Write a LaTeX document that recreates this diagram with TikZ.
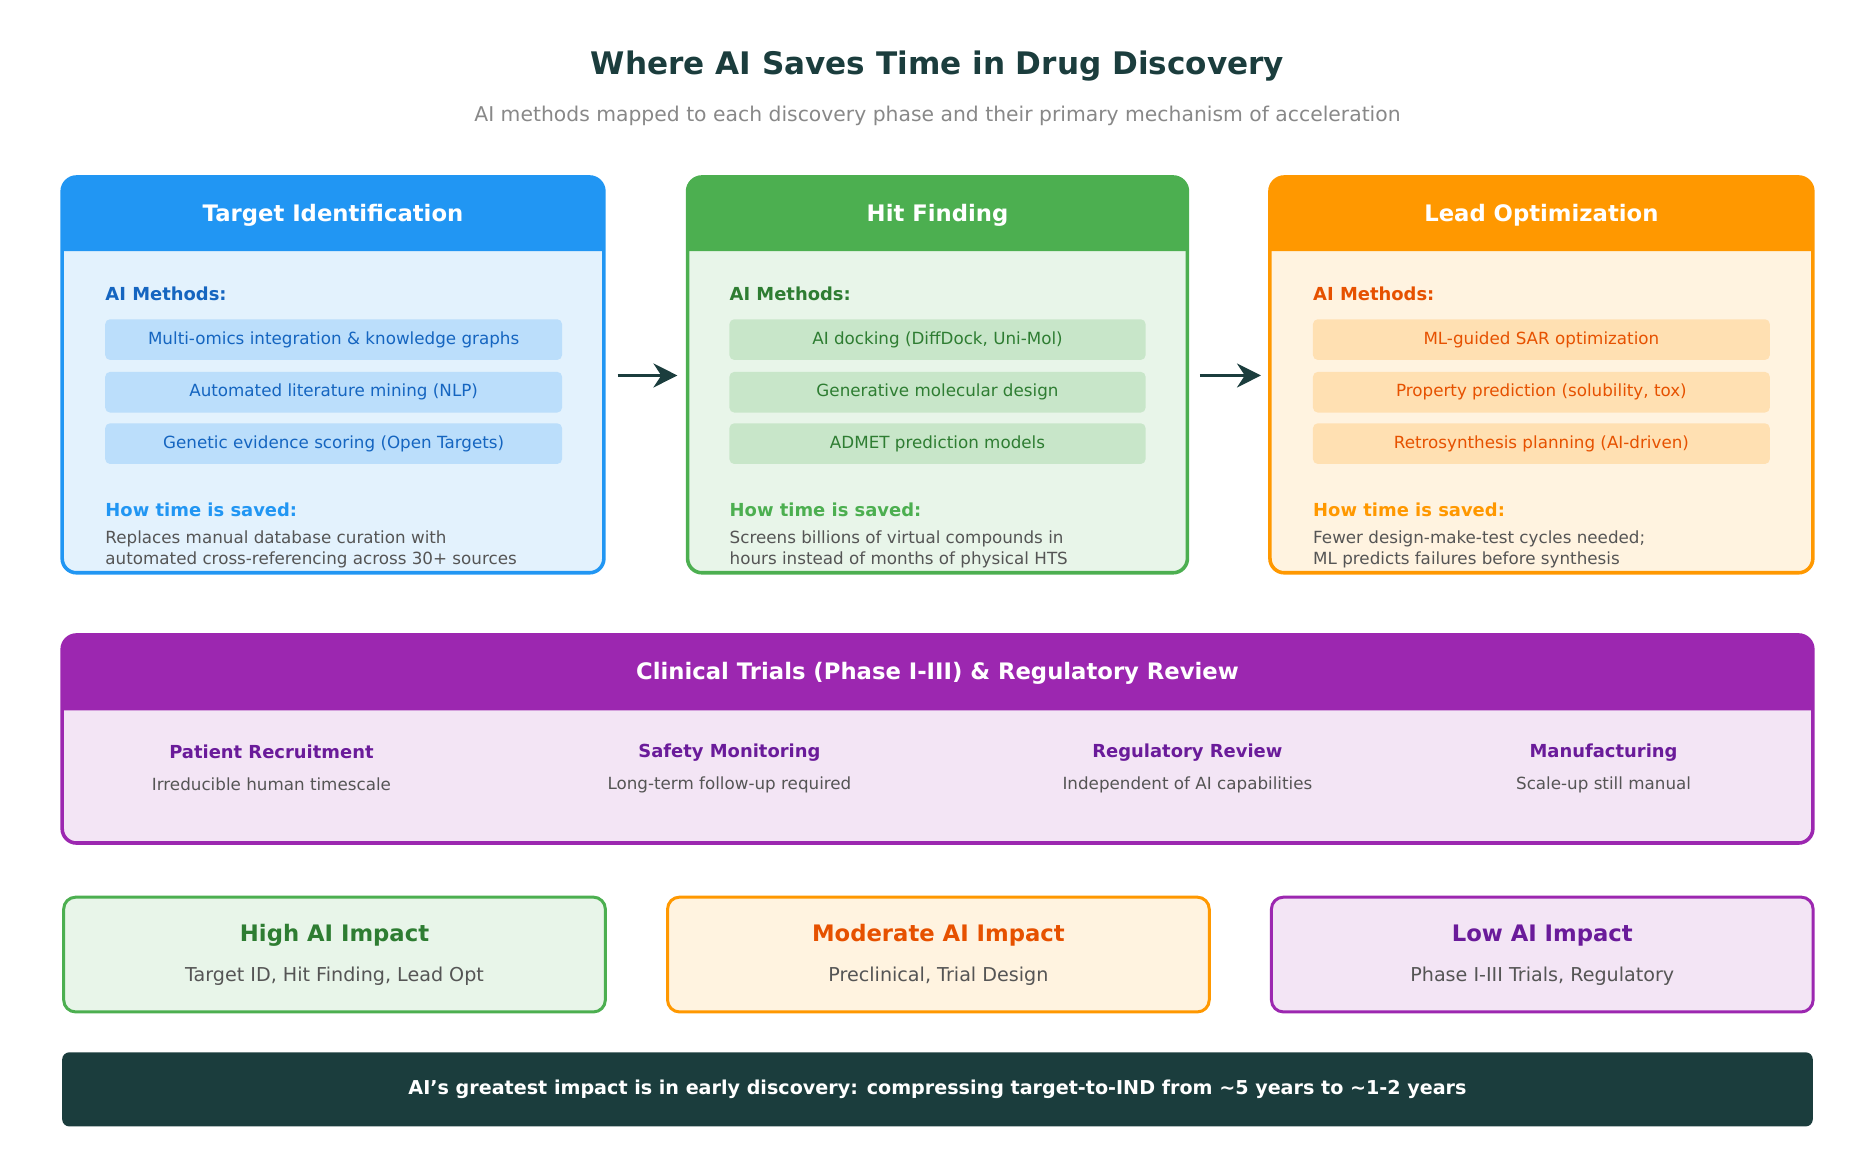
\documentclass[tikz,border=0pt]{standalone}
\usepackage{fontspec}
\setmainfont{DejaVu Sans}
\usetikzlibrary{arrows.meta, positioning}
\definecolor{darkteal}{HTML}{1B3D3D}
\definecolor{subgray}{HTML}{888888}
\definecolor{textgray}{HTML}{555555}
\definecolor{tgtmain}{HTML}{2196F3}
\definecolor{tgtdark}{HTML}{1565C0}
\definecolor{tgtfill}{HTML}{E3F2FD}
\definecolor{tgtpill}{HTML}{BBDEFB}
\definecolor{hitmain}{HTML}{4CAF50}
\definecolor{hitdark}{HTML}{2E7D32}
\definecolor{hitfill}{HTML}{E8F5E9}
\definecolor{hitpill}{HTML}{C8E6C9}
\definecolor{leadmain}{HTML}{FF9800}
\definecolor{leaddark}{HTML}{E65100}
\definecolor{leadfill}{HTML}{FFF3E0}
\definecolor{leadpill}{HTML}{FFE0B2}
\definecolor{clinmain}{HTML}{9C27B0}
\definecolor{clindark}{HTML}{6A1B9A}
\definecolor{clinfill}{HTML}{F3E5F5}
\newcommand{\fs}[1]{\fontsize{#1}{#1}\selectfont}
\tikzset{
  pill/.style={rounded corners=4, minimum height=34, inner sep=0},
  headtext/.style={text=white, font=\fs{19}\bfseries},
  bodytext/.style={text=textgray, font=\fs{14}, align=left, anchor=north west, inner sep=0},
  flowarrow/.style={-{Stealth[length=20, width=20]}, line width=3, darkteal}
}
% phase box: name, x1, x2, main, dark, fill, pill, title
\newcommand{\phasebox}[8]{%
  \fill[#6, rounded corners=12] (#2,148) rectangle (#3,479);
  \fill[#4] (#2,210) [rounded corners=12] -- (#2,148) -- (#3,148) [sharp corners] -- (#3,210) -- cycle;
  \node[draw=#4, line width=3, rounded corners=12, minimum width={#3-#2}, minimum height=331, inner sep=0]
    (#1) at ({(#2+#3)/2},313.5) {};
  \node[headtext] (#1-head) at ({(#2+#3)/2},180) {#8};
}
\begin{document}
\begin{tikzpicture}[x=1pt, y=-1pt]
  \useasboundingbox (0,0) rectangle (1568,976);

  % title
  \node[text=darkteal, font=\fs{26}\bfseries] (title) at (784,55) {Where AI Saves Time in Drug Discovery};
  \node[text=subgray, font=\fs{17}] (subtitle) at (784,97) {AI methods mapped to each discovery phase and their primary mechanism of acceleration};

  % phase boxes
  \phasebox{tgt}{52}{505}{tgtmain}{tgtdark}{tgtfill}{tgtpill}{Target Identification}
  \phasebox{hit}{575}{993}{hitmain}{hitdark}{hitfill}{hitpill}{Hit Finding}
  \phasebox{lead}{1062}{1516}{leadmain}{leaddark}{leadfill}{leadpill}{Lead Optimization}

  % target identification
  \node[text=tgtdark, font=\fs{15}\bfseries, anchor=west, inner sep=0] (tgt-ai) at (88,246) {AI Methods:};
  \node[pill, fill=tgtpill, minimum width=382, text=tgtdark, font=\fs{14}] (tgt-m1) at (279,284) {Multi-omics integration \& knowledge graphs};
  \node[pill, fill=tgtpill, minimum width=382, text=tgtdark, font=\fs{14}] (tgt-m2) at (279,328) {Automated literature mining (NLP)};
  \node[pill, fill=tgtpill, minimum width=382, text=tgtdark, font=\fs{14}] (tgt-m3) at (279,371) {Genetic evidence scoring (Open Targets)};
  \node[text=tgtmain, font=\fs{15}\bfseries, anchor=west, inner sep=0] (tgt-how) at (88,426) {How time is saved:};
  \node[bodytext] (tgt-txt) at (88,444) {Replaces manual database curation with\\[3pt]automated cross-referencing across 30+ sources};

  % hit finding
  \node[text=hitdark, font=\fs{15}\bfseries, anchor=west, inner sep=0] (hit-ai) at (610,246) {AI Methods:};
  \node[pill, fill=hitpill, minimum width=348, text=hitdark, font=\fs{14}] (hit-m1) at (784,284) {AI docking (DiffDock, Uni-Mol)};
  \node[pill, fill=hitpill, minimum width=348, text=hitdark, font=\fs{14}] (hit-m2) at (784,328) {Generative molecular design};
  \node[pill, fill=hitpill, minimum width=348, text=hitdark, font=\fs{14}] (hit-m3) at (784,371) {ADMET prediction models};
  \node[text=hitmain, font=\fs{15}\bfseries, anchor=west, inner sep=0] (hit-how) at (610,426) {How time is saved:};
  \node[bodytext] (hit-txt) at (610,444) {Screens billions of virtual compounds in\\[3pt]hours instead of months of physical HTS};

  % lead optimization
  \node[text=leaddark, font=\fs{15}\bfseries, anchor=west, inner sep=0] (lead-ai) at (1098,246) {AI Methods:};
  \node[pill, fill=leadpill, minimum width=382, text=leaddark, font=\fs{14}] (lead-m1) at (1289,284) {ML-guided SAR optimization};
  \node[pill, fill=leadpill, minimum width=382, text=leaddark, font=\fs{14}] (lead-m2) at (1289,328) {Property prediction (solubility, tox)};
  \node[pill, fill=leadpill, minimum width=382, text=leaddark, font=\fs{14}] (lead-m3) at (1289,371) {Retrosynthesis planning (AI-driven)};
  \node[text=leadmain, font=\fs{15}\bfseries, anchor=west, inner sep=0] (lead-how) at (1098,426) {How time is saved:};
  \node[bodytext] (lead-txt) at (1098,444) {Fewer design-make-test cycles needed;\\[3pt]ML predicts failures before synthesis};

  % arrows between phases
  \draw[flowarrow, shorten <=10, shorten >=7] (tgt.east |- 0,314) -- (hit.west |- 0,314);
  \draw[flowarrow, shorten <=9, shorten >=6] (hit.east |- 0,314) -- (lead.west |- 0,314);

  % clinical trials
  \fill[clinfill, rounded corners=12] (52,531) rectangle (1516,705);
  \fill[clinmain] (52,594) [rounded corners=12] -- (52,531) -- (1516,531) [sharp corners] -- (1516,594) -- cycle;
  \node[draw=clinmain, line width=3, rounded corners=12, minimum width=1464, minimum height=174, inner sep=0] (clin) at (784,618) {};
  \node[headtext] (clin-head) at (784,563) {Clinical Trials (Phase I-III) \& Regulatory Review};
  \foreach \cx/\ctitle/\csub [count=\i] in {227/Patient Recruitment/Irreducible human timescale,
      610/Safety Monitoring/Long-term follow-up required,
      993/Regulatory Review/Independent of AI capabilities,
      1341/Manufacturing/Scale-up still manual} {
    \node[text=clindark, font=\fs{15}\bfseries] (clin-t\i) at (\cx,629) {\ctitle};
    \node[text=textgray, font=\fs{14}] (clin-s\i) at (\cx,656) {\csub};
  }

  % impact legend
  \foreach \x/\main/\dark/\fil/\ttl/\sub [count=\i] in {
      52/hitmain/hitdark/hitfill/High AI Impact/{Target ID, Hit Finding, Lead Opt},
      557/leadmain/leaddark/leadfill/Moderate AI Impact/{Preclinical, Trial Design},
      1062/clinmain/clindark/clinfill/Low AI Impact/{Phase I-III Trials, Regulatory}} {
    \node[draw=\main, fill=\fil, line width=2.5, rounded corners=10, minimum width=453, minimum height=96, anchor=north west, inner sep=0] (impact\i) at (\x,749) {};
    \node[text=\dark, font=\fs{19}\bfseries] (impact\i-t) at ([yshift=-33]impact\i.north) {\ttl};
    \node[text=textgray, font=\fs{16}] (impact\i-s) at ([yshift=-67]impact\i.north) {\sub};
  }

  % bottom banner
  \node[fill=darkteal, rounded corners=6, minimum width=1464, minimum height=62, text=white, font=\fs{16}\bfseries] (banner) at (784,911) {AI's greatest impact is in early discovery: compressing target-to-IND from \textasciitilde5 years to \textasciitilde1-2 years};
\end{tikzpicture}
\end{document}
